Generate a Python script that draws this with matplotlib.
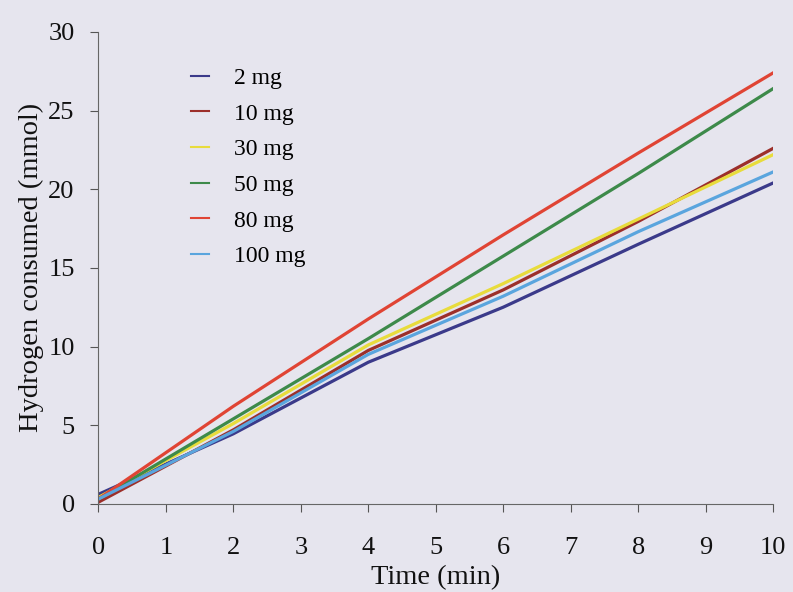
import numpy as np
import matplotlib.pyplot as plt

plt.rcParams['font.family'] = 'serif'
plt.rcParams['font.serif'] = ['Liberation Serif', 'DejaVu Serif']

# time points (min)
time = [0, 2, 4, 6, 8, 10]

# hydrogen consumed (mmol) for each catalyst loading
h2_2mg = [0.6, 4.45, 9.0, 12.5, 16.5, 20.4]
h2_10mg = [0.1, 4.7, 9.75, 13.6, 17.95, 22.6]
h2_30mg = [0.4, 5.1, 10.1, 14.0, 18.1, 22.2]
h2_50mg = [0.3, 5.4, 10.5, 15.75, 21.0, 26.4]
h2_80mg = [0.3, 6.2, 11.75, 17.1, 22.3, 27.4]
h2_100mg = [0.3, 4.6, 9.5, 13.2, 17.3, 21.1]

labels = ['2 mg', '10 mg', '30 mg', '50 mg', '80 mg', '100 mg']
series = [h2_2mg, h2_10mg, h2_30mg, h2_50mg, h2_80mg, h2_100mg]
colors = ['#3b3a8a', '#9c2f2a', '#e8dc3c', '#3d8a4a', '#e04434', '#5aa5de']

bg = '#e6e5ee'
fig = plt.figure(figsize=(7.93, 5.92), dpi=100, facecolor=bg)
ax = fig.add_axes([0.124, 0.149, 0.851, 0.797])
ax.set_facecolor(bg)

for vals, lab, c in zip(series, labels, colors):
    ax.plot(time, vals, color=c, linewidth=2.3, label=lab)

ax.set_xlim(0, 10)
ax.set_ylim(0, 30)
ax.set_xticks(range(0, 11))
ax.set_yticks(range(0, 31, 5))
ax.tick_params(labelsize=19, length=6, width=0.8, colors='#555555', labelcolor='#111111')
ax.tick_params(axis='x', pad=18)
ax.tick_params(axis='y', pad=11)

for s in ['top', 'right']:
    ax.spines[s].set_visible(False)
for s in ['left', 'bottom']:
    ax.spines[s].set_color('#666666')
    ax.spines[s].set_linewidth(0.8)

ax.set_xlabel('Time (min)', fontsize=20.5, color='#111111', labelpad=4)
ax.set_ylabel('Hydrogen consumed (mmol)', fontsize=20.5, color='#111111', labelpad=3)

leg = ax.legend(loc='upper left', bbox_to_anchor=(0.106, 0.97), frameon=False,
                fontsize=17, handlelength=0.76, handletextpad=1.06, labelspacing=0.6)
for h in leg.get_lines():
    h.set_linewidth(1.5)

fig.savefig('out.png', dpi=100, facecolor=bg)
